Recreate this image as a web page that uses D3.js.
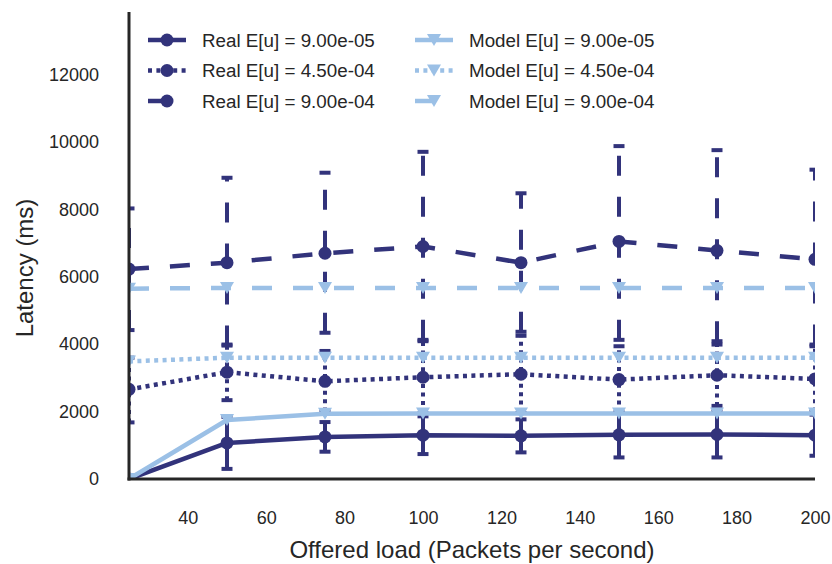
<!DOCTYPE html>
<html>
<head>
<meta charset="utf-8">
<script src="https://cdn.jsdelivr.net/npm/d3@7"></script>
<style>
  body { margin: 0; background: #fff; }
  text { font-family: "Liberation Sans", Arial, sans-serif; fill: #262626; }
</style>
</head>
<body>
<svg id="chart" width="832" height="564"></svg>
<script>
// offered load (packets per second)
var loads = [25, 50, 75, 100, 125, 150, 175, 200];

// measured latency, mean and CI bounds (ms)
var real1 = [0, 1070, 1250, 1300, 1280, 1310, 1320, 1300];
var real1Lo = [0, 300, 810, 740, 790, 640, 640, 690];
var real1Hi = [0, 1840, 1690, 1860, 1770, 1980, 2000, 1910];
var real2 = [2660, 3170, 2900, 3020, 3110, 2950, 3080, 2970];
var real2Lo = [1680, 2340, 2000, 1950, 1960, 1960, 2170, 2000];
var real2Hi = [3600, 3990, 3800, 4090, 4250, 3940, 3990, 3940];
var real3 = [6230, 6420, 6700, 6900, 6420, 7050, 6780, 6520];
var real3Lo = [4420, 3960, 4340, 4130, 4370, 4130, 4090, 3990];
var real3Hi = [8030, 8940, 9090, 9710, 8480, 9880, 9760, 9180];

// model latency (ms)
var model1 = [0, 1750, 1940, 1945, 1945, 1945, 1945, 1945];
var model2 = [3490, 3600, 3600, 3600, 3600, 3600, 3600, 3600];
var model3 = [5650, 5670, 5670, 5670, 5670, 5670, 5670, 5670];

var yTicks = [0, 2000, 4000, 6000, 8000, 10000, 12000];
var xTicks = [40, 60, 80, 100, 120, 140, 160, 180, 200];
var labels = ["Real E[u] = 9.00e-05", "Real E[u] = 4.50e-04", "Real E[u] = 9.00e-04",
    "Model E[u] = 9.00e-05", "Model E[u] = 4.50e-04", "Model E[u] = 9.00e-04"];

var dark = "#32337b",
    light = "#9bc0e6",
    dashes = ["none", "4,4.4", "20,21"];

var series = [
    {name: labels[0], v: real1, lo: real1Lo, hi: real1Hi, color: dark, dash: dashes[0], mark: "o"},
    {name: labels[1], v: real2, lo: real2Lo, hi: real2Hi, color: dark, dash: dashes[1], mark: "o"},
    {name: labels[2], v: real3, lo: real3Lo, hi: real3Hi, color: dark, dash: dashes[2], mark: "o"},
    {name: labels[3], v: model1, color: light, dash: dashes[0], mark: "v"},
    {name: labels[4], v: model2, color: light, dash: dashes[1], mark: "v"},
    {name: labels[5], v: model3, color: light, dash: dashes[2], mark: "v"}
];

var svg = d3.select("#chart"),
    margin = {top: 12, right: 17, bottom: 85, left: 129},
    width = +svg.attr("width") - margin.left - margin.right,
    height = +svg.attr("height") - margin.top - margin.bottom;

var x = d3.scaleLinear().domain([25, 200]).range([0, width]),
    y = d3.scaleLinear().domain([0, 13860]).range([height, 0]);

var g = svg.append("g")
    .attr("transform", "translate(" + margin.left + "," + margin.top + ")");

svg.append("defs").append("clipPath")
    .attr("id", "clip")
    .append("rect")
    .attr("width", width)
    .attr("height", height);

var tri = "M-7,-6L7,-6L0,6Z";

function drawMarker(sel, s, cx, cy) {
    if (s.mark == "o") {
        sel.append("circle").attr("cx", cx).attr("cy", cy).attr("r", 6.5).attr("fill", s.color);
    } else {
        sel.append("path").attr("d", tri)
            .attr("transform", "translate(" + cx + "," + cy + ")")
            .attr("fill", s.color);
    }
}

var plot = g.append("g").attr("clip-path", "url(#clip)");

var line = d3.line()
    .x(function (d, i) { return x(loads[i]); })
    .y(function (d) { return y(d); });

series.forEach(function (s) {
    var sg = plot.append("g");
    sg.append("path")
        .attr("d", line(s.v))
        .attr("fill", "none")
        .attr("stroke", s.color)
        .attr("stroke-width", 4.5)
        .attr("stroke-linejoin", "round")
        .attr("stroke-dasharray", s.dash);
    if (s.lo) {
        loads.forEach(function (l, i) {
            if (s.hi[i] == s.lo[i]) return;
            var px = x(l);
            sg.append("line")
                .attr("x1", px).attr("x2", px)
                .attr("y1", y(s.lo[i])).attr("y2", y(s.hi[i]))
                .attr("stroke", s.color)
                .attr("stroke-width", 4)
                .attr("stroke-dasharray", s.dash);
            [s.lo[i], s.hi[i]].forEach(function (c) {
                sg.append("line")
                    .attr("x1", px - 5.5).attr("x2", px + 5.5)
                    .attr("y1", y(c)).attr("y2", y(c))
                    .attr("stroke", s.color)
                    .attr("stroke-width", 4);
            });
        });
    }
    s.v.forEach(function (d, i) {
        drawMarker(sg, s, x(loads[i]), y(d));
    });
});

// axes: labels only, no tick marks
var xAxis = g.append("g")
    .attr("transform", "translate(0," + height + ")")
    .call(d3.axisBottom(x).tickValues(xTicks).tickSize(0).tickPadding(32));
var yAxis = g.append("g")
    .call(d3.axisLeft(y).tickValues(yTicks).tickSize(0).tickPadding(30).tickFormat(d3.format("d")));

[xAxis, yAxis].forEach(function (a) {
    a.select(".domain").remove();
    a.selectAll("text")
        .style("font-size", "18px")
        .attr("fill", "#262626");
});

g.append("line")
    .attr("x1", 0).attr("x2", 0).attr("y1", 0).attr("y2", height + 1.5)
    .attr("stroke", "#262626").attr("stroke-width", 3);
g.append("line")
    .attr("x1", -1.5).attr("x2", width).attr("y1", height).attr("y2", height)
    .attr("stroke", "#262626").attr("stroke-width", 3);

svg.append("text")
    .attr("x", 472)
    .attr("y", 558)
    .attr("text-anchor", "middle")
    .style("font-size", "24px")
    .text("Offered load (Packets per second)");

svg.append("text")
    .attr("transform", "translate(33,268) rotate(-90)")
    .attr("text-anchor", "middle")
    .style("font-size", "24px")
    .text("Latency (ms)");

// legend, two columns filled top to bottom
var legend = svg.append("g");
series.forEach(function (s, i) {
    var col = Math.floor(i / 3),
        row = i % 3,
        lx = col == 0 ? 148 : 415,
        ly = 40 + row * 30.5;
    var lg = legend.append("g");
    lg.append("line")
        .attr("x1", lx).attr("x2", lx + 38)
        .attr("y1", ly).attr("y2", ly)
        .attr("stroke", s.color)
        .attr("stroke-width", 4.5)
        .attr("stroke-dasharray", s.dash);
    drawMarker(lg, s, lx + 19, ly);
    lg.append("text")
        .attr("x", lx + 54)
        .attr("y", ly + 6.5)
        .style("font-size", "18.8px")
        .text(s.name);
});
</script>
</body>
</html>
